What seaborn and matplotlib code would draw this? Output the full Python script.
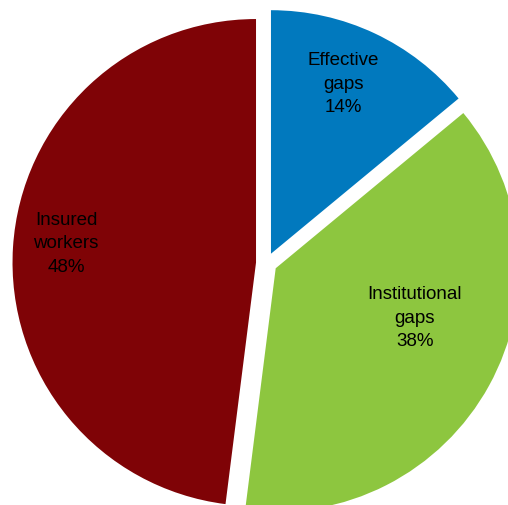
import matplotlib
matplotlib.use("Agg")
import matplotlib.pyplot as plt
import seaborn as sns
import numpy as np

# Composition of the workforce by coverage status
categories = ["Effective\ngaps", "Institutional\ngaps", "Insured\nworkers"]
shares = [14, 38, 48]
colors = ["#0179BE", "#8DC63F", "#7F0306"]

# Where each label sits inside its slice: fraction of the radius and angle (deg)
label_dist = [0.761, 0.606, 0.784]
label_angle = [67.1, -19.3, 174.1]

sns.set_theme(style="white")
plt.rcParams["font.family"] = ["Liberation Sans", "DejaVu Sans"]

W, H = 508, 506
fig = plt.figure(figsize=(W / 100, H / 100), dpi=100)
ax = fig.add_axes([0, 0, 1, 1])

radius = 243.5
gap = 10.5  # pull-out distance of every slice, in data units
wedges, _ = ax.pie(
    shares,
    colors=colors,
    startangle=90,
    counterclock=False,
    explode=[gap] * len(shares),
    radius=radius,
    center=(266.5, 241.8),
    wedgeprops=dict(linewidth=0),
)

for w, cat, val, f, ang in zip(wedges, categories, shares, label_dist, label_angle):
    cx, cy = w.center
    a = np.deg2rad(ang)
    ax.text(cx + f * radius * np.cos(a), cy + f * radius * np.sin(a),
            f"{cat}\n{val}%", ha="center", va="center",
            fontsize=13.5, color="black", linespacing=1.52)

ax.set_xlim(0, W)
ax.set_ylim(0, H)
ax.set_aspect("auto")
ax.axis("off")

fig.savefig("out.png", dpi=100, facecolor="white")
